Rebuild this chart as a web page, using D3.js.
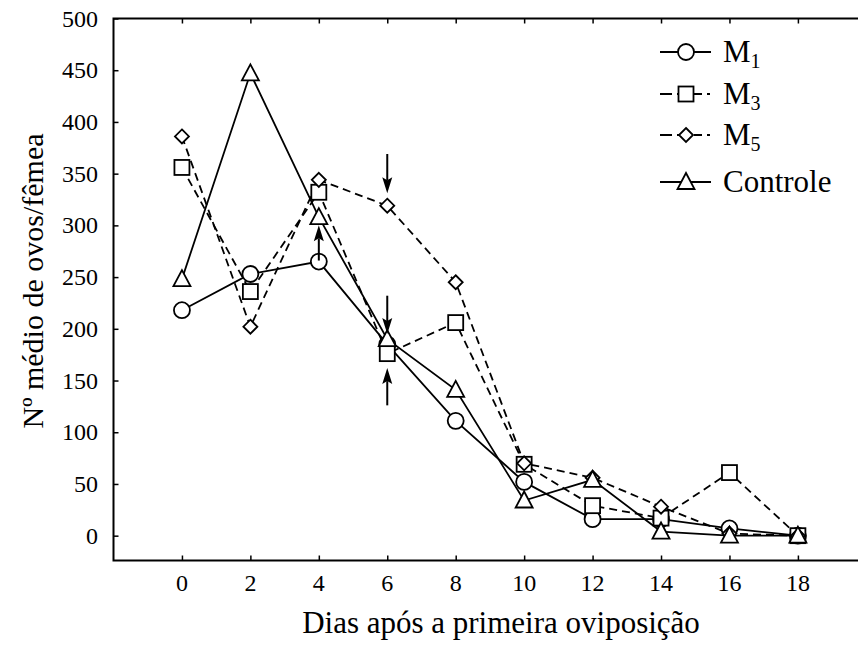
<!DOCTYPE html>
<html>
<head>
<meta charset="utf-8">
<script src="https://cdn.jsdelivr.net/npm/d3@7"></script>
<style>
  html, body { margin: 0; padding: 0; background: #fff; }
  svg { display: block; }
</style>
</head>
<body>
<svg id="chart" width="858" height="649" font-family="'Liberation Serif', 'Times New Roman', serif"></svg>
<script>
// Days after the first oviposition
const days = [0, 2, 4, 6, 8, 10, 12, 14, 16, 18];

// Mean number of eggs per female, by treatment
const m1       = [218, 253, 265, 185, 111, 52, 16, 16, 7, 0];
const m3       = [356, 236, 332, 176, 206, 69, 29, 17, 61, 0];
const m5       = [386, 202, 344, 319, 245, 70, 56, 28, 2, 0];
const controle = [248, 447, 308, 190, 141, 34, 54, 4, 0, 0];

const xTicks = [0, 2, 4, 6, 8, 10, 12, 14, 16, 18];
const yTicks = [0, 50, 100, 150, 200, 250, 300, 350, 400, 450, 500];

// Arrows marking treatment applications: day, tail value, head value
const arrows = [
  { day: 4, from: 266, to: 300 },
  { day: 6, from: 369, to: 331 },
  { day: 6, from: 232, to: 195 },
  { day: 6, from: 126, to: 162 }
];

const series = [
  { name: "M", sub: "1", values: m1, shape: "circle", dash: null },
  { name: "M", sub: "3", values: m3, shape: "square", dash: "8,5" },
  { name: "M", sub: "5", values: m5, shape: "diamond", dash: "8,5" },
  { name: "Controle", sub: null, values: controle, shape: "triangle", dash: null }
];

const svg = d3.select("#chart");
const plotLeft = 113.5, plotRight = 859.5, plotTop = 18.5, plotBottom = 560.5;

const x = d3.scaleLinear().domain([-2, 19.8]).range([plotLeft, plotRight]);
const y = d3.scaleLinear().domain([-24, 500]).range([plotBottom, plotTop]);

// Frame and ticks (ticks point inward)
const frame = svg.append("g");
frame.append("rect")
  .attr("x", plotLeft).attr("y", plotTop)
  .attr("width", plotRight - plotLeft).attr("height", plotBottom - plotTop)
  .attr("fill", "none").attr("stroke", "#000").attr("stroke-width", 2);

function ticks(axis, transform) {
  frame.append("g").attr("transform", transform).call(axis)
    .call(g => g.select(".domain").remove())
    .call(g => g.selectAll("line").attr("stroke-width", 1.5));
}
ticks(d3.axisBottom(x).tickValues(xTicks).tickSize(-5).tickFormat(""), `translate(0,${plotBottom})`);
ticks(d3.axisTop(x).tickValues(xTicks).tickSize(-5).tickFormat(""), `translate(0,${plotTop})`);
ticks(d3.axisLeft(y).tickValues(yTicks).tickSize(-5).tickFormat(""), `translate(${plotLeft},0)`);

// Tick labels
svg.append("g").selectAll("text").data(xTicks).join("text")
  .attr("x", d => x(d)).attr("y", 591)
  .attr("text-anchor", "middle").attr("font-size", 24)
  .text(d => d);
svg.append("g").selectAll("text").data(yTicks).join("text")
  .attr("x", 98).attr("y", d => y(d) + 8)
  .attr("text-anchor", "end").attr("font-size", 24)
  .text(d => d);

// Axis titles
svg.append("text")
  .attr("x", 501).attr("y", 633)
  .attr("text-anchor", "middle").attr("font-size", 31)
  .text("Dias após a primeira oviposição");
svg.append("text")
  .attr("transform", "translate(43,281) rotate(-90)")
  .attr("text-anchor", "middle").attr("font-size", 30)
  .text("Nº médio de ovos/fêmea");

// Marker shapes
function marker(g, shape) {
  if (shape === "circle") {
    g.append("circle").attr("r", 8);
  } else if (shape === "square") {
    g.append("rect").attr("x", -7.5).attr("y", -7.5).attr("width", 15).attr("height", 15);
  } else if (shape === "diamond") {
    g.append("path").attr("d", "M0,-7L7,0L0,7L-7,0Z");
  } else {
    g.append("path").attr("d", "M0,-9L8.5,7L-8.5,7Z");
  }
  g.selectAll("*").attr("fill", "#fff").attr("stroke", "#000").attr("stroke-width", 1.8);
}

const line = d3.line().x((d, i) => x(days[i])).y(d => y(d));

// Lines
const plot = svg.append("g");
series.forEach(s => {
  plot.append("path")
    .datum(s.values)
    .attr("d", line)
    .attr("fill", "none").attr("stroke", "#000").attr("stroke-width", 1.8)
    .attr("stroke-dasharray", s.dash);
});

// Markers
series.forEach(s => {
  s.values.forEach((v, i) => {
    const g = plot.append("g").attr("transform", `translate(${x(days[i])},${y(v)})`);
    marker(g, s.shape);
  });
});

// Arrows
arrows.forEach(a => {
  const ax = x(a.day), y0 = y(a.from), y1 = y(a.to);
  const dir = Math.sign(y1 - y0);
  const headLen = 16, headW = 5;
  plot.append("line")
    .attr("x1", ax).attr("x2", ax)
    .attr("y1", y0).attr("y2", y1 - dir * headLen + dir * 3)
    .attr("stroke", "#000").attr("stroke-width", 2);
  plot.append("path")
    .attr("d", `M${ax},${y1}L${ax - headW},${y1 - dir * headLen}L${ax},${y1 - dir * (headLen - 3)}L${ax + headW},${y1 - dir * headLen}Z`)
    .attr("fill", "#000");
});

// Legend
const legendRows = [52, 94, 135, 182];
const legend = svg.append("g");
series.forEach((s, i) => {
  const ly = legendRows[i];
  legend.append("line")
    .attr("x1", 660).attr("x2", 711).attr("y1", ly).attr("y2", ly)
    .attr("stroke", "#000").attr("stroke-width", 1.8)
    .attr("stroke-dasharray", s.dash ? "12,5,12,5,8,5,3,100" : null);
  marker(legend.append("g").attr("transform", `translate(686,${ly})`), s.shape);
  const t = legend.append("text")
    .attr("x", 723).attr("y", ly + 10)
    .attr("font-size", 31);
  t.append("tspan").text(s.name);
  if (s.sub) {
    t.append("tspan").attr("dy", 6).attr("font-size", 20).text(s.sub);
  }
});
</script>
</body>
</html>
